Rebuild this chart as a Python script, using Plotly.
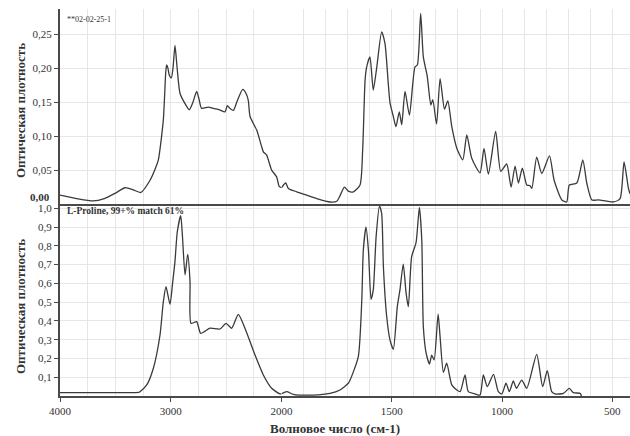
import plotly.graph_objects as go

# ---- data ----
sample_wn = [4000, 3850, 3702, 3600, 3500, 3413, 3340, 3270, 3187, 3140, 3112, 3067, 3045, 3037, 3025, 3013,
             2995, 2980, 2962, 2950, 2941, 2916, 2871, 2833, 2800, 2766, 2745, 2721, 2661, 2616, 2560, 2510,
             2489, 2465, 2435, 2400, 2350, 2320, 2300, 2284, 2224, 2180, 2164, 2134, 2089, 2044, 2021, 2000,
             1981, 1969, 1931, 1886, 1840, 1780, 1750, 1735, 1715, 1697, 1674, 1644, 1632, 1621, 1614, 1599,
             1584, 1568, 1546, 1531, 1516, 1508, 1493, 1481, 1466, 1455, 1440, 1420, 1395, 1384, 1369, 1357,
             1339, 1323, 1314, 1297, 1281, 1261, 1246, 1228, 1205, 1178, 1160, 1137, 1100, 1082, 1062, 1029,
             1006, 979, 959, 941, 926, 908, 888, 873, 865, 843, 820, 785, 764, 729, 707, 695, 661, 634, 616,
             593, 563, 495, 465, 447, 427, 420]
sample_abs = [0.013, 0.008, 0.0045, 0.008, 0.016, 0.024, 0.021, 0.017, 0.035, 0.052, 0.065, 0.124, 0.195, 0.205,
              0.200, 0.190, 0.186, 0.200, 0.234, 0.215, 0.198, 0.163, 0.148, 0.139, 0.150, 0.166, 0.155, 0.141,
              0.143, 0.141, 0.139, 0.136, 0.145, 0.141, 0.138, 0.152, 0.169, 0.163, 0.153, 0.129, 0.109, 0.085,
              0.077, 0.072, 0.050, 0.040, 0.026, 0.024, 0.031, 0.023, 0.018, 0.013, 0.008, 0.003, 0.004, 0.012,
              0.025, 0.019, 0.018, 0.028, 0.080, 0.183, 0.202, 0.217, 0.168, 0.202, 0.254, 0.237, 0.178, 0.149,
              0.129, 0.114, 0.136, 0.117, 0.166, 0.131, 0.202, 0.205, 0.281, 0.217, 0.188, 0.146, 0.154, 0.118,
              0.185, 0.140, 0.152, 0.114, 0.082, 0.065, 0.102, 0.067, 0.046, 0.082, 0.044, 0.107, 0.048, 0.059,
              0.025, 0.056, 0.031, 0.053, 0.028, 0.027, 0.023, 0.069, 0.045, 0.071, 0.035, 0.006, 0.003, 0.028,
              0.031, 0.065, 0.031, 0.006, 0.006, 0.003, 0.008, 0.062, 0.023, 0.015]

ref_wn = [4000, 3500, 3290, 3278, 3217, 3157, 3097, 3067, 3043, 3007, 2982, 2962, 2941, 2910, 2895, 2871, 2847,
          2826, 2817, 2766, 2730, 2646, 2555, 2501, 2450, 2390, 2330, 2239, 2164, 2089, 2014, 2000, 1976, 1946,
          1856, 1780, 1735, 1697, 1689, 1652, 1636, 1629, 1617, 1606, 1594, 1584, 1571, 1556, 1546, 1538, 1523,
          1508, 1493, 1475, 1463, 1448, 1435, 1425, 1410, 1390, 1375, 1364, 1357, 1344, 1329, 1319, 1308, 1290,
          1281, 1266, 1251, 1228, 1205, 1190, 1168, 1153, 1122, 1100, 1085, 1067, 1039, 1017, 1001, 982, 967,
          949, 935, 911, 888, 843, 816, 795, 775, 760, 722, 695, 677, 646, 640]
ref_abs = [0.018, 0.018, 0.019, 0.023, 0.059, 0.148, 0.325, 0.502, 0.582, 0.489, 0.609, 0.716, 0.875, 0.961,
           0.858, 0.645, 0.755, 0.609, 0.387, 0.396, 0.334, 0.361, 0.357, 0.387, 0.361, 0.435, 0.361, 0.218,
           0.112, 0.041, 0.011, 0.012, 0.023, 0.009, 0.005, 0.014, 0.032, 0.068, 0.085, 0.209, 0.511, 0.778,
           0.899, 0.778, 0.515, 0.565, 0.849, 1.012, 0.973, 0.689, 0.422, 0.298, 0.249, 0.476, 0.565, 0.703,
           0.547, 0.476, 0.742, 0.817, 1.005, 0.831, 0.369, 0.227, 0.170, 0.218, 0.192, 0.436, 0.316, 0.126,
           0.175, 0.059, 0.032, 0.023, 0.112, 0.023, 0.011, 0.005, 0.112, 0.050, 0.115, 0.023, 0.011, 0.068,
           0.023, 0.080, 0.041, 0.085, 0.041, 0.222, 0.050, 0.135, 0.023, 0.011, 0.014, 0.041, 0.018, 0.014, 0.0]

x_left_ticks = [4000, 3000]
x_right_ticks = [2000, 1500, 1000, 500]
y_top_ticks = [0.05, 0.10, 0.15, 0.20, 0.25]
y_bot_ticks = [0.1, 0.2, 0.3, 0.4, 0.5, 0.6, 0.7, 0.8, 0.9, 1.0]

sample_label = "**02-02-25-1"
ref_label = "L-Proline, 99+% match 61%"
y_title = "Оптическая плотность"
x_title = "Волновое число (см-1)"
top_zero_label = "0,00"

# ---- styling ----
FONT = "Liberation Serif"
LINE = "#3a3a3a"
AXIS = "#4a4a4a"
GRID = "#e6e6e6"
SPLIT = 0.3886      # x-domain split at 2000 cm-1
YSPLIT = 0.4961     # y-domain split between the panels


def part(wn, ab, left):
    pts = [(w, a) for w, a in zip(wn, ab) if (w >= 2000 if left else w <= 2000)]
    return [p[0] for p in pts], [p[1] for p in pts]


fig = go.Figure()
line = dict(color=LINE, width=1.3, shape="spline", smoothing=0.6)
for left, xa in [(True, "x3"), (False, "x4")]:
    xs, ys = part(sample_wn, sample_abs, left)
    fig.add_trace(go.Scatter(x=xs, y=ys, mode="lines", line=line, xaxis=xa, yaxis="y2",
                             showlegend=False, hoverinfo="skip"))
for left, xa in [(True, "x"), (False, "x2")]:
    xs, ys = part(ref_wn, ref_abs, left)
    fig.add_trace(go.Scatter(x=xs, y=ys, mode="lines", line=line, xaxis=xa, yaxis="y",
                             showlegend=False, hoverinfo="skip"))

tickfont = dict(family=FONT, size=11, color="#333")
common_x = dict(showline=True, linewidth=2, linecolor=AXIS, showgrid=True, gridcolor=GRID, gridwidth=1,
                zeroline=False, tickfont=tickfont)


def xaxis(domain, rng, tickvals, minor_dtick, anchor, labels):
    d = dict(common_x, domain=domain, range=rng, anchor=anchor, tickmode="array", tickvals=tickvals,
             minor=dict(dtick=minor_dtick, tick0=0, showgrid=True, gridcolor=GRID, gridwidth=1, ticks=""))
    if labels:
        d.update(ticks="outside", ticklen=4, tickcolor=AXIS, tickwidth=1, showticklabels=True)
    else:
        d.update(ticks="", showticklabels=False)
    return d


fig.update_layout(
    width=630, height=436,
    margin=dict(l=60, r=0, t=9, b=40),
    paper_bgcolor="white", plot_bgcolor="white",
    separators=",.",
    xaxis=xaxis([0, SPLIT], [4000, 2000], x_left_ticks, 250, "y", True),
    xaxis2=xaxis([SPLIT, 1], [2000, 420], x_right_ticks, 100, "y", True),
    xaxis3=xaxis([0, SPLIT], [4000, 2000], x_left_ticks, 250, "y2", False),
    xaxis4=xaxis([SPLIT, 1], [2000, 420], x_right_ticks, 100, "y2", False),
    yaxis=dict(domain=[0, YSPLIT], range=[0, 1.0229], anchor="x", tickmode="array", tickvals=y_bot_ticks,
               tickformat=".1f", showline=True, linewidth=2, linecolor=AXIS, ticks="outside", ticklen=4,
               tickcolor=AXIS, showgrid=True, gridcolor=GRID, zeroline=False, tickfont=tickfont),
    yaxis2=dict(domain=[YSPLIT, 1], range=[0, 0.2876], anchor="x3", tickmode="array", tickvals=y_top_ticks,
                tickformat=".2f", showline=True, linewidth=2, linecolor=AXIS, ticks="outside", ticklen=4,
                tickcolor=AXIS, showgrid=True, gridcolor=GRID, zeroline=False, tickfont=tickfont),
)

ann = []
# "0,00" label of the top panel (shifted up like the original)
ann.append(dict(text="<b>" + top_zero_label + "</b>", x=-0.014, y=(396 - 197) / 387, xref="paper",
                yref="paper", xanchor="right", yanchor="middle", showarrow=False,
                font=dict(family=FONT, size=11, color="#333")))
ann.append(dict(text=sample_label, x=0.008, y=(396 - 20) / 387, xref="paper", yref="paper", xanchor="left",
                yanchor="middle", showarrow=False, font=dict(family=FONT, size=8, color="#333")))
ann.append(dict(text="<b>" + ref_label + "</b>", x=0.008, y=(396 - 211) / 387, xref="paper", yref="paper",
                xanchor="left", yanchor="middle", showarrow=False, font=dict(family=FONT, size=9.5, color="#333")))
for yc in [(396 - 111) / 387, (396 - 307) / 387]:
    ann.append(dict(text="<b>" + y_title + "</b>", x=(20 - 60) / 570, y=yc, xref="paper", yref="paper",
                    xanchor="center", yanchor="middle", textangle=-90, showarrow=False,
                    font=dict(family=FONT, size=13, color="#333")))
ann.append(dict(text="<b>" + x_title + "</b>", x=(335 - 60) / 570, y=(396 - 428) / 387, xref="paper",
                yref="paper", xanchor="center", yanchor="middle", showarrow=False,
                font=dict(family=FONT, size=13, color="#333")))
fig.update_layout(annotations=ann)

# bold tick labels
fig.update_xaxes(tickprefix="<b>", ticksuffix="</b>")
fig.update_yaxes(tickprefix="<b>", ticksuffix="</b>")

fig.write_html("out.html", config={"displayModeBar": False},
               post_script="document.body.style.margin='0px';")
